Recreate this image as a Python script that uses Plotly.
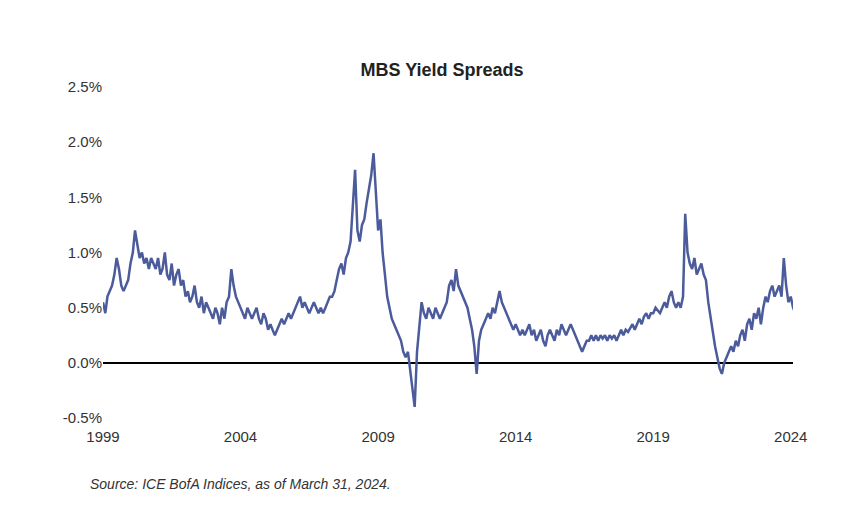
import plotly.graph_objects as go
import pandas as pd

spread = [
0.55,0.45,0.6,0.65,0.7,0.8,0.95,0.85,0.7,0.65,0.7,0.75,
0.9,1.0,1.2,1.05,0.95,1.0,0.9,0.95,0.85,0.95,0.9,0.85,
0.95,0.8,0.85,1.0,0.8,0.75,0.9,0.7,0.8,0.85,0.7,0.75,
0.6,0.65,0.55,0.6,0.7,0.55,0.5,0.6,0.45,0.55,0.5,0.45,
0.4,0.5,0.45,0.35,0.5,0.4,0.55,0.6,0.85,0.7,0.6,0.55,
0.5,0.45,0.4,0.5,0.45,0.4,0.45,0.5,0.4,0.35,0.45,0.4,
0.3,0.35,0.3,0.25,0.3,0.35,0.4,0.35,0.4,0.45,0.4,0.45,
0.5,0.55,0.6,0.5,0.55,0.5,0.45,0.5,0.55,0.5,0.45,0.5,
0.45,0.5,0.55,0.6,0.6,0.65,0.75,0.85,0.9,0.8,0.95,1.0,
1.1,1.4,1.75,1.2,1.1,1.25,1.3,1.45,1.6,1.7,1.9,1.5,
1.2,1.3,1.0,0.8,0.6,0.5,0.4,0.35,0.3,0.25,0.2,0.1,
0.05,0.1,-0.05,-0.2,-0.4,0.1,0.35,0.55,0.45,0.4,0.5,0.45,
0.4,0.5,0.45,0.4,0.45,0.5,0.55,0.7,0.75,0.65,0.85,0.7,
0.65,0.6,0.55,0.5,0.4,0.3,0.15,-0.1,0.2,0.3,0.35,0.4,
0.45,0.4,0.5,0.45,0.55,0.65,0.55,0.5,0.45,0.4,0.35,0.3,
0.35,0.3,0.25,0.3,0.25,0.3,0.35,0.25,0.3,0.2,0.25,0.3,
0.2,0.15,0.25,0.3,0.25,0.2,0.3,0.25,0.35,0.3,0.25,0.3,
0.35,0.3,0.25,0.2,0.15,0.1,0.15,0.2,0.2,0.25,0.2,0.25,
0.2,0.25,0.22,0.25,0.2,0.25,0.22,0.25,0.2,0.25,0.3,0.25,
0.3,0.28,0.32,0.35,0.3,0.35,0.4,0.35,0.42,0.45,0.4,0.45,
0.45,0.5,0.48,0.45,0.5,0.55,0.5,0.6,0.65,0.55,0.5,0.55,
0.5,0.6,1.35,1.0,0.9,0.85,0.95,0.8,0.85,0.9,0.8,0.75,
0.55,0.4,0.3,0.15,0.05,-0.05,-0.1,0.0,0.05,0.1,0.15,0.1,
0.2,0.15,0.25,0.3,0.2,0.35,0.4,0.3,0.45,0.4,0.5,0.35,
0.5,0.6,0.55,0.65,0.7,0.6,0.65,0.7,0.6,0.95,0.7,0.55,
0.6,0.5,0.45]
dates = pd.date_range("1999-01-01", periods=len(spread), freq="MS")
tick_years = ["1999", "2004", "2009", "2014", "2019", "2024"]
y_ticks = [-0.5, 0.0, 0.5, 1.0, 1.5, 2.0, 2.5]

fig = go.Figure(go.Scatter(x=dates, y=[v/100 for v in spread], mode="lines",
                           line=dict(color="#4B5B9B", width=2.5)))
fig.update_layout(
    width=868, height=512, paper_bgcolor="white", plot_bgcolor="white",
    margin=dict(l=95, r=83, t=79, b=102), showlegend=False,
    font=dict(family="Liberation Sans, Arial", size=15, color="#333"),
    title=dict(text="<b>MBS Yield Spreads</b>", x=0.5, xanchor="center", y=0.88, yanchor="middle",
               font=dict(size=18, color="#222")),
)
fig.update_xaxes(range=["1999-01-01", "2024-01-31"], showgrid=False, showline=False,
                 tickvals=[pd.Timestamp(y + "-01-01") for y in tick_years], ticktext=tick_years,
                 ticks="", tickfont=dict(size=15), ticklabelstandoff=8)
fig.update_yaxes(range=[-0.005, 0.025], showgrid=False, showline=False, zeroline=True,
                 zerolinecolor="black", zerolinewidth=1.5,
                 tickvals=[v/100 for v in y_ticks], ticktext=[f"{v:.1f}%" for v in y_ticks],
                 tickfont=dict(size=15), ticks="")
fig.add_annotation(text="<i>Source: ICE BofA Indices, as of March 31, 2024.</i>", xref="paper", yref="paper",
                   x=-0.022, y=-0.23, xanchor="left", showarrow=False, font=dict(size=14, color="#333"))
fig.write_html("out.html")
